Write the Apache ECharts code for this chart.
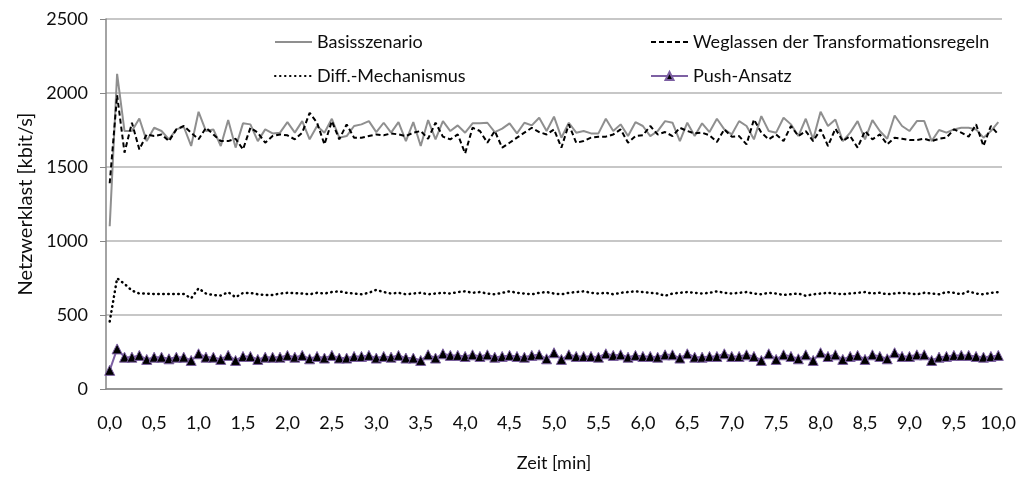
<!DOCTYPE html>
<html>
<head>
<meta charset="UTF-8">
<title>Netzwerklast</title>
<script type="text/javascript" src="https://cdn.jsdelivr.net/npm/echarts@6/dist/echarts.min.js"></script>
</head>
<body style="margin:0">
<div id="main" style="width:1021px;height:477px;"></div>
<script type="text/javascript">
// Zeitachse: ein Messpunkt alle 5 s, 0..10 min
var zeit = [];
for (var i = 0; i <= 120; i++) zeit.push((i / 12).toFixed(1).replace('.', ','));

var basis = [1100, 2130, 1743, 1743, 1828, 1675, 1765, 1743, 1687, 1754, 1772, 1642, 1873, 1743, 1754, 1642, 1817, 1631, 1795, 1788,
  1675, 1754, 1727, 1732, 1803, 1732, 1810, 1687, 1777, 1732, 1826, 1698, 1709, 1777, 1788, 1810, 1736, 1799, 1732, 1803,
  1675, 1803, 1642, 1817, 1687, 1810, 1743, 1781, 1732, 1795, 1795, 1799, 1736, 1759, 1795, 1727, 1799, 1781, 1833, 1743,
  1840, 1698, 1799, 1732, 1743, 1727, 1727, 1826, 1743, 1788, 1709, 1803, 1777, 1709, 1743, 1810, 1799, 1675, 1799, 1709,
  1795, 1736, 1826, 1754, 1720, 1810, 1777, 1687, 1844, 1743, 1732, 1833, 1788, 1709, 1826, 1687, 1873, 1777, 1821, 1675,
  1732, 1810, 1687, 1817, 1743, 1691, 1848, 1777, 1743, 1810, 1810, 1675, 1750, 1732, 1754, 1765, 1765, 1754, 1698, 1743, 1803];

var weglassen = [1390, 1985, 1597, 1799, 1619, 1720, 1709, 1720, 1675, 1754, 1777, 1732, 1687, 1765, 1720, 1675, 1675, 1691, 1619, 1765,
  1732, 1664, 1709, 1720, 1714, 1687, 1732, 1866, 1799, 1653, 1810, 1687, 1788, 1698, 1698, 1709, 1720, 1714, 1727, 1720,
  1709, 1732, 1743, 1691, 1799, 1705, 1687, 1720, 1592, 1765, 1743, 1664, 1743, 1631, 1664, 1698, 1732, 1765, 1736, 1720,
  1754, 1631, 1788, 1664, 1675, 1698, 1705, 1705, 1720, 1754, 1664, 1709, 1714, 1777, 1720, 1736, 1709, 1765, 1743, 1727,
  1732, 1714, 1669, 1754, 1705, 1709, 1653, 1821, 1732, 1687, 1720, 1675, 1777, 1709, 1743, 1675, 1754, 1642, 1759, 1675,
  1709, 1631, 1743, 1687, 1720, 1653, 1698, 1691, 1682, 1682, 1691, 1675, 1691, 1698, 1754, 1732, 1705, 1788, 1642, 1777, 1720];

var diff = [456, 748, 710, 665, 645, 645, 642, 642, 642, 642, 642, 613, 680, 645, 635, 632, 654, 620, 649, 649,
  640, 635, 635, 645, 650, 648, 645, 640, 650, 645, 655, 660, 650, 645, 640, 650, 670, 655, 645, 650,
  640, 645, 650, 640, 645, 650, 645, 655, 660, 650, 655, 645, 640, 650, 660, 650, 645, 640, 650, 655,
  645, 640, 650, 655, 660, 650, 645, 650, 640, 650, 655, 660, 655, 650, 645, 630, 645, 650, 655, 650,
  645, 650, 660, 650, 645, 650, 655, 645, 640, 650, 645, 635, 640, 645, 630, 640, 645, 650, 645, 640,
  645, 650, 655, 645, 650, 640, 645, 650, 645, 640, 650, 645, 640, 655, 650, 640, 660, 645, 640, 650, 655];

var push = [126, 271, 215, 215, 227, 200, 215, 215, 204, 215, 215, 193, 238, 215, 215, 200, 227, 193, 220, 220,
  200, 215, 215, 215, 227, 215, 227, 204, 220, 209, 227, 209, 209, 220, 220, 227, 209, 220, 215, 227,
  209, 209, 193, 231, 209, 238, 227, 227, 220, 231, 220, 231, 215, 220, 227, 220, 215, 227, 231, 204,
  245, 200, 231, 220, 220, 220, 215, 238, 227, 231, 215, 227, 220, 220, 215, 231, 231, 209, 238, 215,
  215, 220, 220, 238, 220, 220, 231, 220, 193, 238, 200, 231, 220, 204, 231, 193, 245, 220, 231, 200,
  220, 227, 200, 231, 220, 204, 245, 220, 220, 231, 231, 193, 215, 220, 227, 227, 227, 220, 215, 220, 227];

var font = 'Lato';
var textCol = '#0d0d0d';
var myChart = echarts.init(document.getElementById('main'));

function legendAt(name, left, top, hideSymbol) {
  var item = { name: name };
  if (hideSymbol) item.itemStyle = { opacity: 0 };
  return {
    data: [item], left: left, top: top, padding: 0,
    itemWidth: 37, itemHeight: 10,
    textStyle: { fontFamily: font, fontSize: 18, color: textCol }
  };
}

var option = {
  animation: false,
  textStyle: { fontFamily: font },
  grid: { left: 106, right: 19, top: 19, bottom: 87 },
  legend: [
    legendAt('Basisszenario', 274, 33, true),
    legendAt('Weglassen der Transformationsregeln', 650, 33, true),
    legendAt('Diff.-Mechanismus', 274, 67, true),
    legendAt('Push-Ansatz', 650, 67, false)
  ],
  xAxis: {
    type: 'category',
    data: zeit,
    boundaryGap: true,
    name: 'Zeit [min]',
    nameLocation: 'middle',
    nameGap: 65,
    nameTextStyle: { fontFamily: font, fontSize: 18, color: textCol },
    axisLine: { lineStyle: { color: '#868686', width: 1.5 } },
    axisTick: { interval: 0, length: 5, lineStyle: { color: '#868686' } },
    axisLabel: { interval: 5, margin: 25, fontFamily: font, fontSize: 18, color: textCol },
    splitLine: { show: false }
  },
  yAxis: {
    type: 'value',
    min: 0, max: 2500, interval: 500,
    name: 'Netzwerklast [kbit/s]',
    nameLocation: 'middle',
    nameGap: 69,
    nameTextStyle: { fontFamily: font, fontSize: 20, color: textCol },
    axisLine: { show: true, lineStyle: { color: '#868686', width: 1.5 } },
    axisTick: { show: true, length: 6, lineStyle: { color: '#868686' } },
    axisLabel: {
      margin: 18, fontFamily: font, fontSize: 18, color: textCol,
      formatter: function (v) { return String(v); }
    },
    splitLine: { lineStyle: { color: '#b4b4b4', width: 1.5 } }
  },
  series: [
    { name: 'Basisszenario', type: 'line', data: basis, symbol: 'none',
      lineStyle: { color: '#8f8f8f', width: 2 }, itemStyle: { color: '#8f8f8f' } },
    { name: 'Weglassen der Transformationsregeln', type: 'line', data: weglassen, symbol: 'none',
      lineStyle: { color: '#000', width: 2, type: [5, 3] }, itemStyle: { color: '#000' } },
    { name: 'Diff.-Mechanismus', type: 'line', data: diff, symbol: 'none',
      lineStyle: { color: '#000', width: 2.5, type: [0.5, 4.5], cap: 'round' }, itemStyle: { color: '#000' } },
    { name: 'Push-Ansatz', type: 'line', data: push, symbol: 'triangle', symbolSize: 10, showAllSymbol: true,
      lineStyle: { color: '#7d60a3', width: 2 },
      itemStyle: { color: '#000', borderColor: '#7d60a3', borderWidth: 1 } }
  ]
};
myChart.setOption(option);
</script>
</body>
</html>
